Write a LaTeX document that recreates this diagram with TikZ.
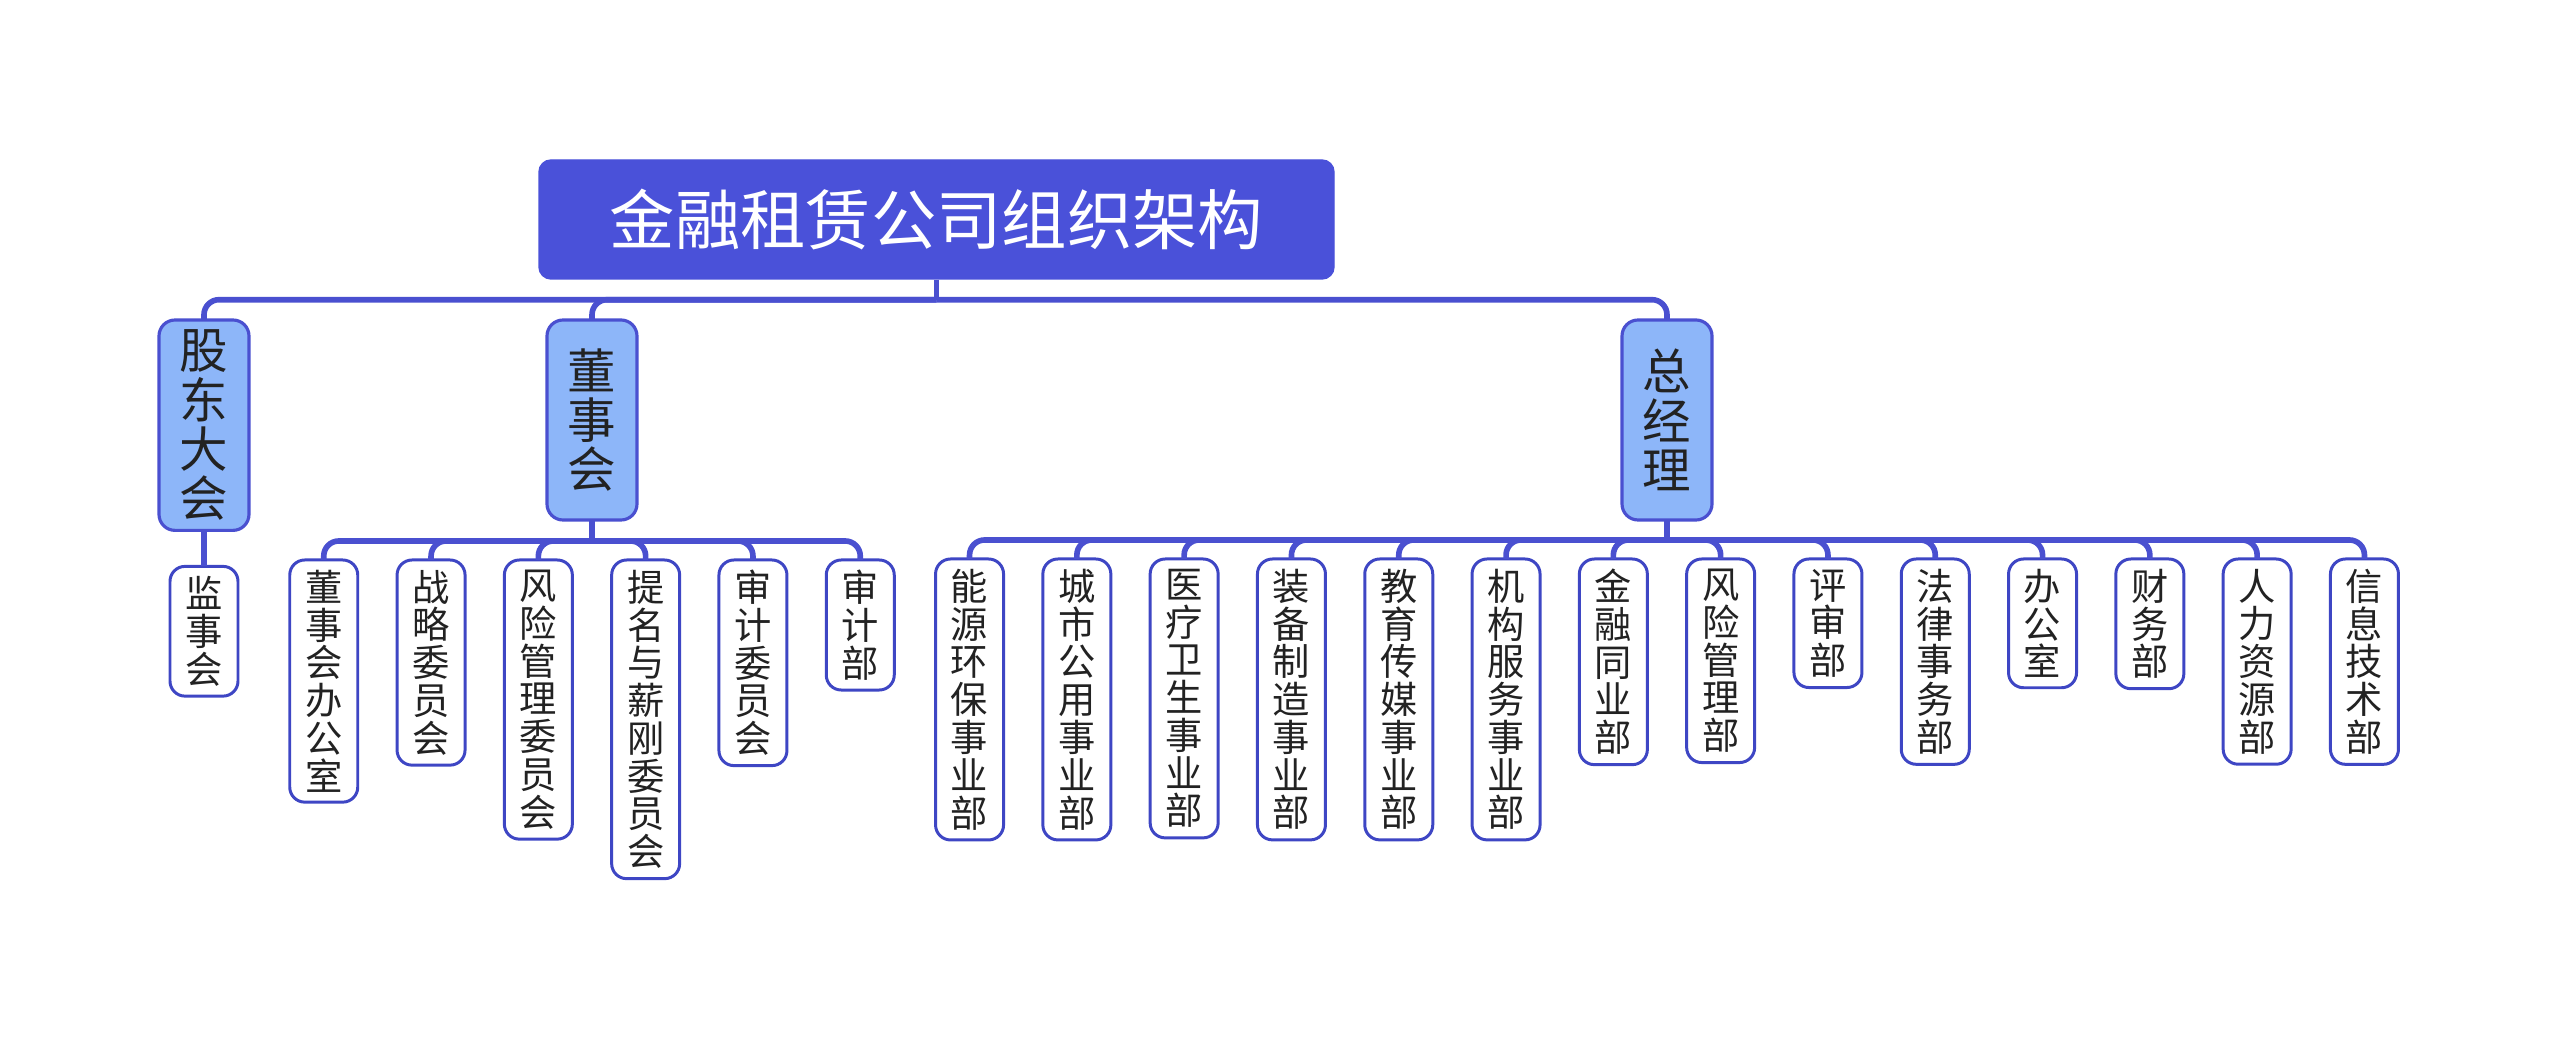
\documentclass[tikz,border=0pt]{standalone}
\usepackage{fontspec}
\newfontfamily\cjk{Noto Sans CJK SC}
\usetikzlibrary{positioning,calc}

\definecolor{titleblue}{HTML}{4A51D9}
\definecolor{lineblue}{HTML}{4A50D0}
\definecolor{headfill}{HTML}{8DB6F9}
\definecolor{unitline}{HTML}{3E46C4}
\definecolor{inkgray}{HTML}{222222}

\tikzset{
  titlebox/.style={fill=titleblue, draw=titleblue, rounded corners=0.12cm,
    minimum width=7.95cm, minimum height=1.19cm, text=white,
    font=\cjk\fontsize{18.6pt}{22pt}\selectfont},
  headbox/.style={fill=headfill, draw=lineblue, line width=0.9pt, rounded corners=0.16cm,
    minimum width=0.9cm, minimum height=2.0cm, text width=0.6cm, align=center,
    inner xsep=0pt, inner ysep=0.1cm, outer sep=0pt, text=inkgray,
    font=\cjk\fontsize{13.8pt}{14pt}\selectfont},
  unitbox/.style={fill=white, draw=unitline, line width=0.85pt, rounded corners=0.15cm,
    minimum width=0.68cm, text width=0.45cm, align=center,
    inner xsep=0pt, inner ysep=0.1cm, outer sep=0pt, text=inkgray,
    font=\cjk\fontsize{10.6pt}{10.75pt}\selectfont},
  link/.style={draw=lineblue, line width=1.6pt, rounded corners=0.15cm}
}

\begin{document}
\begin{tikzpicture}
\useasboundingbox (0,0) rectangle (25.6,-10.46);

\node[titlebox] (top) at (9.365,-2.195) {金融租赁公司组织架构};
\node[headbox, anchor=north] (gd) at (2.04,-3.20) {股\\东\\大\\会};
\node[headbox, anchor=north] (dsh) at (5.92,-3.20) {董\\事\\会};
\node[headbox, anchor=north] (zjl) at (16.67,-3.20) {总\\经\\理};

% top level bus
\coordinate (tb) at ($(top.south)+(0,-0.2)$);
\draw[link] (top.south) -- (tb);
\foreach \n in {gd,dsh,zjl}
  \draw[link] (tb) -| (\n.north);

% shareholders
\node[unitbox, anchor=north] (jsh) at ($(gd.south)+(0,-0.36)$) {监\\事\\会};
\draw[link] (gd.south) -- (jsh.north);

% board
\coordinate (db) at ($(dsh.south)+(0,-0.21)$);
\node[unitbox, anchor=north] (d1) at ($(db)+(-2.6825,-0.19)$) {董\\事\\会\\办\\公\\室};
\node[unitbox, right=0.393cm of d1.north east, anchor=north west] (d2) {战\\略\\委\\员\\会};
\node[unitbox, right=0.393cm of d2.north east, anchor=north west] (d3) {风\\险\\管\\理\\委\\员\\会};
\node[unitbox, right=0.393cm of d3.north east, anchor=north west] (d4) {提\\名\\与\\薪\\刚\\委\\员\\会};
\node[unitbox, right=0.393cm of d4.north east, anchor=north west] (d5) {审\\计\\委\\员\\会};
\node[unitbox, right=0.393cm of d5.north east, anchor=north west] (d6) {审\\计\\部};
\draw[link] (dsh.south) -- (db);
\foreach \i in {1,...,6}
  \draw[link] (db) -| (d\i.north);

% general manager
\coordinate (zb) at ($(zjl.south)+(0,-0.2)$);
\node[unitbox, anchor=north] (z1) at ($(zb)+(-6.9745,-0.19)$) {能\\源\\环\\保\\事\\业\\部};
\node[unitbox, right=0.393cm of z1.north east, anchor=north west] (z2) {城\\市\\公\\用\\事\\业\\部};
\node[unitbox, right=0.393cm of z2.north east, anchor=north west] (z3) {医\\疗\\卫\\生\\事\\业\\部};
\node[unitbox, right=0.393cm of z3.north east, anchor=north west] (z4) {装\\备\\制\\造\\事\\业\\部};
\node[unitbox, right=0.393cm of z4.north east, anchor=north west] (z5) {教\\育\\传\\媒\\事\\业\\部};
\node[unitbox, right=0.393cm of z5.north east, anchor=north west] (z6) {机\\构\\服\\务\\事\\业\\部};
\node[unitbox, right=0.393cm of z6.north east, anchor=north west] (z7) {金\\融\\同\\业\\部};
\node[unitbox, right=0.393cm of z7.north east, anchor=north west] (z8) {风\\险\\管\\理\\部};
\node[unitbox, right=0.393cm of z8.north east, anchor=north west] (z9) {评\\审\\部};
\node[unitbox, right=0.393cm of z9.north east, anchor=north west] (z10) {法\\律\\事\\务\\部};
\node[unitbox, right=0.393cm of z10.north east, anchor=north west] (z11) {办\\公\\室};
\node[unitbox, right=0.393cm of z11.north east, anchor=north west] (z12) {财\\务\\部};
\node[unitbox, right=0.393cm of z12.north east, anchor=north west] (z13) {人\\力\\资\\源\\部};
\node[unitbox, right=0.393cm of z13.north east, anchor=north west] (z14) {信\\息\\技\\术\\部};
\draw[link] (zjl.south) -- (zb);
\foreach \i in {1,...,14}
  \draw[link] (zb) -| (z\i.north);

\end{tikzpicture}
\end{document}
